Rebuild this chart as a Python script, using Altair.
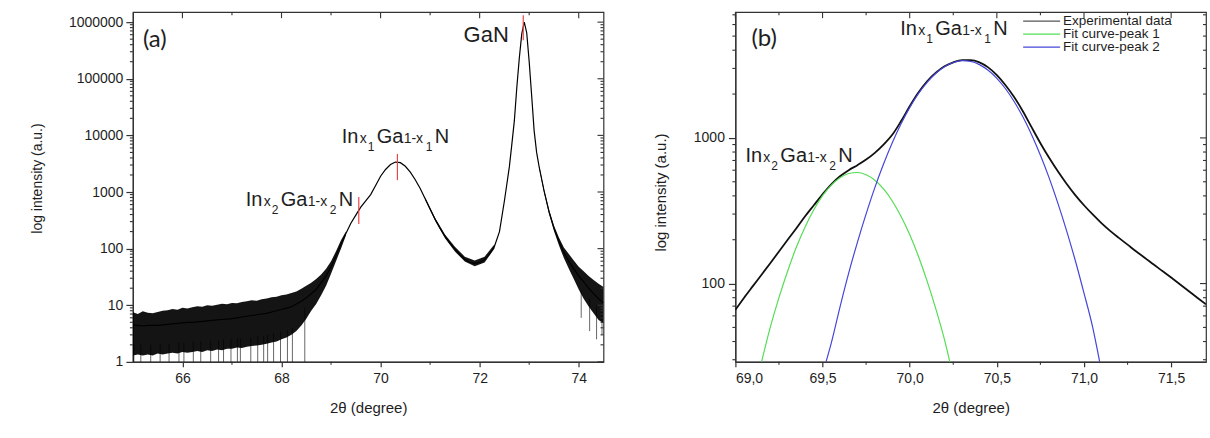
import altair as alt
import pandas as pd

FONT = "Liberation Sans"
INK = "#1e1e1e"
AX = "#333333"

# ---------------- panel (a): full scan ----------------
a_x = [65.0, 65.1, 65.2, 65.3, 65.4, 65.5, 65.6, 65.7, 65.8, 65.9,
       66.0, 66.1, 66.2, 66.3, 66.4, 66.5, 66.6, 66.7, 66.8, 66.9,
       67.0, 67.1, 67.2, 67.3, 67.4, 67.5, 67.6, 67.7, 67.8, 67.9,
       68.0, 68.1, 68.2, 68.3, 68.4, 68.5, 68.6, 68.7, 68.8, 68.9,
       69.0, 69.1, 69.2, 69.3, 69.4, 69.5, 69.6, 69.7, 69.8, 69.9,
       70.0, 70.1, 70.2, 70.3, 70.4, 70.5, 70.6, 70.7, 70.8, 70.9,
       71.0, 71.1, 71.2, 71.3, 71.4, 71.5, 71.6, 71.7, 71.8, 71.9,
       72.0, 72.1, 72.2, 72.3, 72.4, 72.5, 72.55, 72.6, 72.65, 72.7,
       72.75, 72.8, 72.85, 72.9, 72.95,
       73.0, 73.05, 73.1, 73.15, 73.2, 73.3, 73.4, 73.5, 73.6, 73.7, 73.8, 73.9,
       74.0, 74.1, 74.2, 74.3, 74.4, 74.5]
a_y = [4.5, 4.4, 4.3, 4.4, 4.4, 4.4, 4.5, 4.6, 4.7, 4.8,
       4.9, 5.0, 5.0, 5.1, 5.2, 5.3, 5.4, 5.5, 5.6, 5.7,
       5.8, 6.0, 6.2, 6.4, 6.6, 6.8, 7.0, 7.2, 7.6, 8.0,
       8.4, 8.9, 9.4, 10.5, 11.8, 13.5, 16, 19, 25, 33,
       48, 75, 120, 185, 280, 390, 540, 700, 900, 1300,
       1900, 2500, 3050, 3380, 3300, 2850, 2250, 1650, 1150, 760,
       500, 330, 230, 165, 125, 98, 78, 65, 57, 55,
       57, 64, 80, 110, 200, 700, 1400, 2800, 7000, 18000,
       70000, 230000, 620000, 1000000, 650000,
       200000, 50000, 12000, 5000, 2800, 1050, 450, 230, 135, 85, 60, 44,
       33, 26, 20, 16, 13, 11]

# noise envelope of the scan (lower / upper edge of the black band)
band_l_x = [65.0, 65.1, 65.2, 65.3, 65.4, 65.5, 65.6, 65.7, 65.8, 65.9,
            66.0, 66.1, 66.2, 66.3, 66.4, 66.5, 66.6, 66.7, 66.8, 66.9,
            67.0, 67.1, 67.2, 67.3, 67.4, 67.5, 67.6, 67.7, 67.8, 67.9,
            68.0, 68.1, 68.2, 68.3, 68.4, 68.5, 68.6, 68.7, 68.8, 68.9,
            69.0, 69.1, 69.2, 69.3]
band_l_lo = [1.3, 1.35, 1.3, 1.35, 1.3, 1.4, 1.35, 1.4, 1.45, 1.4,
             1.5, 1.45, 1.5, 1.55, 1.5, 1.6, 1.55, 1.65, 1.6, 1.7,
             1.7, 1.8, 1.75, 1.85, 1.9, 1.95, 2.0, 2.1, 2.2, 2.3,
             2.5, 2.7, 3.0, 3.5, 4.4, 5.8, 8.0, 10.5, 15, 22,
             36, 60, 100, 170]
band_l_hi = [7.5, 7.0, 7.8, 7.4, 7.2, 7.6, 8.0, 8.2, 8.6, 8.3,
             9.0, 8.8, 9.2, 9.6, 9.4, 10.0, 9.8, 10.2, 10.6, 10.4,
             11.0, 10.8, 11.4, 11.8, 12.2, 12.0, 12.8, 13.2, 13.8, 14.2,
             15.0, 15.5, 16.5, 17.5, 19.5, 22, 25, 29, 35, 44,
             60, 90, 140, 200]
band_m_x = [70.9, 71.1, 71.3, 71.5, 71.7, 71.9, 72.1, 72.3]
band_m_lo = [720, 310, 152, 89, 59, 49, 57, 101]
band_m_hi = [800, 350, 178, 108, 72, 62, 72, 120]
band_r_x = [73.2, 73.3, 73.4, 73.5, 73.6, 73.7, 73.8, 73.9, 74.0, 74.1, 74.2, 74.3, 74.4, 74.5]
band_r_lo = [2650, 980, 410, 205, 115, 68, 44, 29, 19, 13, 9.5, 7.2, 5.5, 4.8]
band_r_hi = [2950, 1120, 490, 255, 158, 105, 80, 62, 48, 40, 33, 28, 24, 21]

# single noise spikes (top and bottom of each downward spike)
spike_x = [65.02, 65.16, 65.36, 65.55, 65.73, 65.93, 66.03, 66.22, 66.37, 66.57,
           66.73, 66.83, 66.98, 67.11, 67.17, 67.38, 67.52, 67.64, 67.72, 67.84,
           67.98, 68.12, 68.22, 68.47, 74.05, 74.22, 74.36, 74.47]
spike_top = [2.0, 2.0, 2.0, 2.1, 2.1, 2.2, 2.2, 2.3, 2.3, 2.4,
             2.4, 2.5, 2.5, 2.6, 2.6, 2.7, 2.8, 2.9, 3.0, 3.2,
             3.4, 3.6, 4.0, 9.0, 18, 13, 10, 8]
spike_bot = [1, 1, 1, 1, 1, 1, 1, 1, 1, 1,
             1, 1, 1, 1, 1, 1, 1, 1, 1, 1,
             1, 1, 1, 1, 6, 3.5, 2.5, 3]

# red peak markers
mark_x = [69.56, 70.34, 72.88]
mark_lo = [272, 1620, 480000]
mark_hi = [813, 4700, 1320000]

# axis ticks panel (a)
a_xmajor = [66, 68, 70, 72, 74]
a_xminor = [67, 69, 71, 73]
a_ymajor = [1, 10, 100, 1000, 10000, 100000, 1000000]
a_yminor = [m * d for d in [1, 10, 100, 1000, 10000, 100000] for m in range(2, 10)]

# ---------------- panel (b): zoom on InGaN peaks ----------------
b_x = [69.00, 69.05, 69.10, 69.15, 69.20, 69.25, 69.30, 69.35, 69.40, 69.45,
       69.50, 69.55, 69.60, 69.65, 69.70, 69.75, 69.80, 69.85, 69.90, 69.95,
       70.00, 70.05, 70.10, 70.15, 70.20, 70.25, 70.30, 70.35, 70.40, 70.45,
       70.50, 70.55, 70.60, 70.65, 70.70, 70.75, 70.80, 70.85, 70.90, 70.95,
       71.00, 71.05, 71.10, 71.15, 71.20, 71.25, 71.30, 71.35, 71.40, 71.45,
       71.50, 71.55, 71.60, 71.65, 71.70]
b_exp = [66, 80, 96, 115, 138, 166, 200, 240, 290, 345,
         410, 480, 545, 600, 650, 710, 790, 900, 1050, 1300,
         1650, 2050, 2450, 2800, 3100, 3300, 3420, 3420, 3300, 3050,
         2700, 2300, 1900, 1520, 1180, 920, 730, 590, 485, 405,
         345, 298, 260, 230, 206, 185, 166, 150, 135, 122,
         110, 99, 89, 80, 72]
g_x = [69.15, 69.20, 69.25, 69.30, 69.35, 69.40, 69.45, 69.50, 69.55, 69.60,
       69.65, 69.70, 69.75, 69.80, 69.85, 69.90, 69.95, 70.00, 70.05, 70.10,
       70.15, 70.20, 70.23]
g_y = [29, 50, 80, 122, 178, 245, 321, 401, 474, 533,
       570, 579, 558, 512, 446, 369, 290, 217, 154, 104,
       67, 41, 29]
bl_x = [69.52, 69.55, 69.60, 69.65, 69.70, 69.75, 69.80, 69.85, 69.90, 69.95,
        70.00, 70.05, 70.10, 70.15, 70.20, 70.25, 70.30, 70.35, 70.40, 70.45,
        70.50, 70.55, 70.60, 70.65, 70.70, 70.75, 70.80, 70.85, 70.90, 70.95,
        71.00, 71.05, 71.09]
bl_y = [29, 39, 69, 118, 192, 301, 456, 662, 927, 1247,
        1615, 2013, 2410, 2780, 3083, 3296, 3390, 3350, 3185, 2910,
        2565, 2175, 1770, 1390, 1047, 760, 532, 357, 231, 144,
        86, 50, 29]

legend_labels = ["Experimental data", "Fit curve-peak 1", "Fit curve-peak 2"]
legend_colors = ["#555555", "#55dd55", "#4646d8"]

b_xmajor = [69.0, 69.5, 70.0, 70.5, 71.0, 71.5]
b_xminor = [69.25, 69.75, 70.25, 70.75, 71.25]
b_ymajor = [100, 1000]
b_yminor = [30, 40, 50, 60, 70, 80, 90, 200, 300, 400, 500, 600, 700, 800, 900,
            2000, 3000, 4000, 5000, 6000, 7000]

W, H = 471, 350


def X(field, scale, axis):
    return alt.X(f"{field}:Q", scale=scale, axis=axis)


def Y(field, scale, axis):
    return alt.Y(f"{field}:Q", scale=scale, axis=axis)


def txt(s, x, y, size, font=FONT, baseline="alphabetic"):
    return alt.Chart(pd.DataFrame({"t": [s]})).mark_text(
        align="left", baseline=baseline, font=font, fontSize=size, color=INK
    ).encode(x=alt.value(x), y=alt.value(y), text="t:N")


def formula(idx, x0, y0):
    pieces = [("In", 0, 0, 20), ("x", 18, 0, 14), (idx, 26, 8, 12),
              ("Ga", 35, 0, 20), ("1-x", 62, 0, 14), (idx, 84, 8, 12), ("N", 93, 0, 20)]
    return [txt(s, x0 + dx, y0 + dy, sz) for s, dx, dy, sz in pieces]


def frame_ticks(scx, scy, axx, axy, xmaj, xmin, ymaj, ymin):
    def xt(vals, y0, y1):
        return alt.Chart(pd.DataFrame({"x": vals})).mark_rule(color=AX, strokeWidth=1.1).encode(
            x=X("x", scx, axx), y=alt.value(y0), y2=alt.value(y1))

    def yt(vals, x0, x1):
        return alt.Chart(pd.DataFrame({"y": vals})).mark_rule(color=AX, strokeWidth=1.1).encode(
            y=Y("y", scy, axy), x=alt.value(x0), x2=alt.value(x1))

    return [xt(xmin, H, H + 3), xt(xmaj, 0, 6), xt(xmin, 0, 3),
            yt(ymin, 0, -3), yt(ymaj, W, W - 6), yt(ymin, W, W - 3)]


# ---------- build panel (a) ----------
xa = alt.Scale(domain=[65, 74.5], nice=False, zero=False)
ya = alt.Scale(type="log", domain=[1, 1.5e6], nice=False)
axa_x = alt.Axis(values=a_xmajor, format="d", tickSize=5, labelPadding=5, labelFontSize=14,
                 title="2θ (degree)", titleFontSize=15, titleX=W / 2, titleY=46,
                 titleBaseline="middle")
axa_y = alt.Axis(values=a_ymajor, format="d", tickSize=7, labelPadding=3, labelFontSize=14,
                 title="log intensity (a.u.)", titleFontSize=14, titleX=-95, titleY=166,
                 titleBaseline="middle")

df_a = pd.DataFrame({"x": a_x, "y": a_y})
df_band = pd.concat([
    pd.DataFrame({"x": band_l_x, "lo": band_l_lo, "hi": band_l_hi, "seg": "l"}),
    pd.DataFrame({"x": band_m_x, "lo": band_m_lo, "hi": band_m_hi, "seg": "m"}),
    pd.DataFrame({"x": band_r_x, "lo": band_r_lo, "hi": band_r_hi, "seg": "r"}),
])
df_spk = pd.DataFrame({"x": spike_x, "top": spike_top, "bot": spike_bot})
df_mark = pd.DataFrame({"x": mark_x, "lo": mark_lo, "hi": mark_hi})

line_a = alt.Chart(df_a).mark_line(color="#000000", strokeWidth=1.2, clip=True).encode(
    x=X("x", xa, axa_x), y=Y("y", ya, axa_y))
band_a = alt.Chart(df_band).mark_area(color="#000000", opacity=0.92, clip=True).encode(
    x=X("x", xa, axa_x), y=Y("lo", ya, axa_y), y2="hi:Q", detail="seg:N")
spk_a = alt.Chart(df_spk).mark_rule(color="#000000", strokeWidth=0.8, opacity=0.75).encode(
    x=X("x", xa, axa_x), y=Y("top", ya, axa_y), y2="bot:Q")
red_a = alt.Chart(df_mark).mark_rule(color="#e8474a", strokeWidth=1.2).encode(
    x=X("x", xa, axa_x), y=Y("lo", ya, axa_y), y2="hi:Q")

layers_a = [line_a, band_a, spk_a, red_a]
layers_a += frame_ticks(xa, ya, axa_x, axa_y, a_xmajor, a_xminor, a_ymajor, a_yminor)
layers_a += [txt("(a)", 10, 28, 24, font="Lato", baseline="middle"), txt("GaN", 331, 30, 22)]
layers_a += formula("1", 209, 131) + formula("2", 113, 194)
panel_a = alt.layer(*layers_a).properties(width=W, height=H)

# ---------- build panel (b) ----------
xb = alt.Scale(domain=[69.0, 71.7], nice=False, zero=False)
yb = alt.Scale(type="log", domain=[29, 7300], nice=False)
axb_x = alt.Axis(values=b_xmajor, labelExpr="replace(format(datum.value, '.1f'), '.', ',')",
                 tickSize=5, labelPadding=5, labelFontSize=14,
                 title="2θ  (degree)", titleFontSize=15, titleX=W / 2, titleY=46,
                 titleBaseline="middle")
axb_y = alt.Axis(values=b_ymajor, format="d", tickSize=7, labelPadding=4, labelFontSize=14,
                 title="log intensity (a.u.)", titleFontSize=15, titleX=-75, titleY=180,
                 titleBaseline="middle")

df_exp = pd.DataFrame({"x": b_x, "y": b_exp})
df_g = pd.DataFrame({"x": g_x, "y": g_y})
df_bl = pd.DataFrame({"x": bl_x, "y": bl_y})

exp_b = alt.Chart(df_exp).mark_line(color="#111111", strokeWidth=1.8, clip=True,
                                    interpolate="monotone").encode(
    x=X("x", xb, axb_x), y=Y("y", yb, axb_y))
g_b = alt.Chart(df_g).mark_line(color=legend_colors[1], strokeWidth=1.2, clip=True,
                                interpolate="monotone").encode(
    x=X("x", xb, axb_x), y=Y("y", yb, axb_y))
bl_b = alt.Chart(df_bl).mark_line(color=legend_colors[2], strokeWidth=1.2, clip=True,
                                  interpolate="monotone").encode(
    x=X("x", xb, axb_x), y=Y("y", yb, axb_y))

layers_b = [exp_b, g_b, bl_b]
layers_b += frame_ticks(xb, yb, axb_x, axb_y, b_xmajor, b_xminor, b_ymajor, b_yminor)
layers_b += [txt("(b)", 16, 27, 24, font="Lato", baseline="middle")]
layers_b += formula("1", 165, 23) + formula("2", 10, 150)
for i, (lab, col) in enumerate(zip(legend_labels, legend_colors)):
    yy = 9 + 13 * i
    layers_b.append(
        alt.Chart(pd.DataFrame({"k": [lab]})).mark_rule(color=col, strokeWidth=1.2).encode(
            x=alt.value(288), x2=alt.value(325), y=alt.value(yy)))
    layers_b.append(txt(lab, 328, yy, 13.5, baseline="middle"))
panel_b = alt.layer(*layers_b).properties(width=W, height=H)

chart = alt.hconcat(panel_a, panel_b, spacing=47).properties(
    padding={"left": 30, "top": 10, "right": 2, "bottom": 2},
    background="#ffffff",
).configure_axis(
    labelFont=FONT, titleFont=FONT, labelColor=INK, titleColor=INK,
    domainColor=AX, tickColor=AX, domainWidth=1.2, tickWidth=1.2,
    grid=False, titleFontWeight="normal",
).configure_view(stroke=AX, strokeWidth=1.2)

chart.save("out.html", embed_options={"renderer": "svg", "actions": False})
